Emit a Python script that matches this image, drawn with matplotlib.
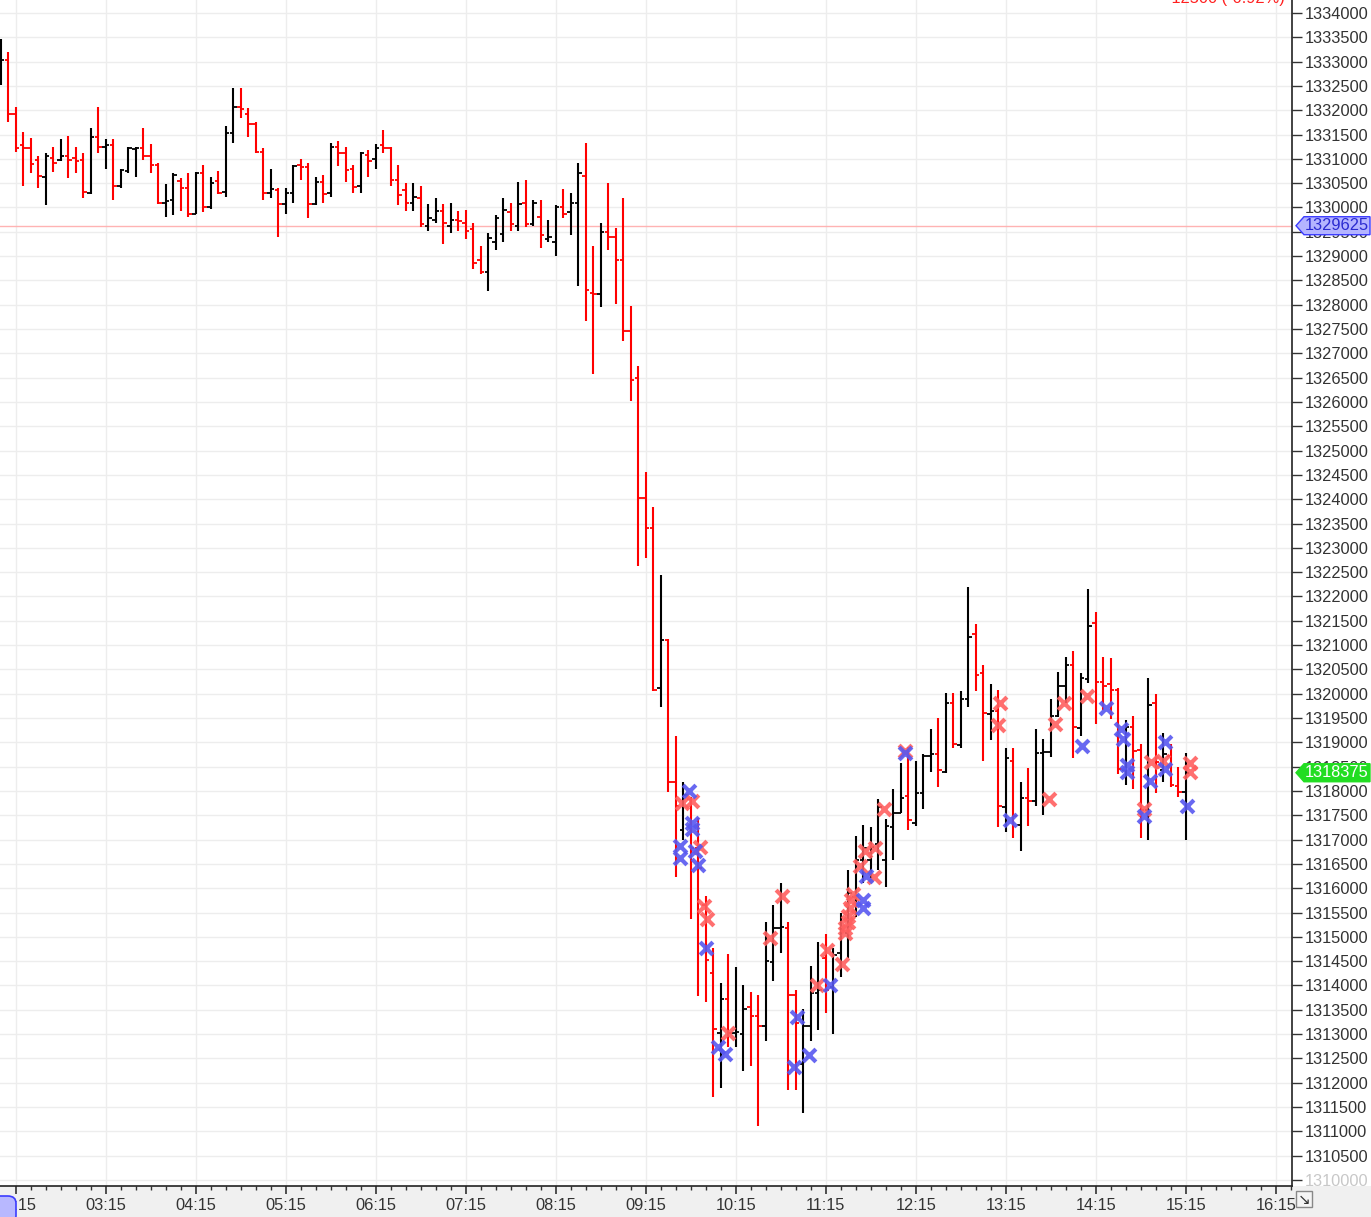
import numpy as np
import matplotlib
matplotlib.use("Agg")
import matplotlib.pyplot as plt
from matplotlib.patches import Polygon, Rectangle, FancyBboxPatch
from matplotlib.transforms import blended_transform_factory

plt.rcParams['font.family'] = ['Liberation Sans', 'DejaVu Sans']

# 5-minute bars, first one at 02:05
first_bar = "02:05"
opens = [1332625, 1333025, 1331925, 1331275, 1331225, 1330975, 1330625, 1331025, 1330975, 1331050,
         1331025, 1330975, 1330300, 1331450, 1331250, 1331275, 1330450, 1330750, 1331200, 1331225,
         1331050, 1330875, 1330100, 1330150, 1330550, 1330400, 1329875, 1330700, 1330000, 1330550,
         1330325, 1331525, 1332075, 1331925, 1331725, 1331150, 1330300, 1330350, 1330075, 1330300,
         1330875, 1330825, 1330075, 1330525, 1330300, 1331250, 1331125, 1330800, 1330450, 1331075,
         1331000, 1331275, 1331225, 1330575, 1330350, 1330100, 1330200, 1329625, 1329750, 1329925,
         1329625, 1329750, 1329675, 1329550, 1328925, 1328675, 1329300, 1329450, 1329900, 1329625,
         1330100, 1329650, 1329800, 1329350, 1329300, 1330000, 1329900, 1330100, 1330650, 1328250,
         1328225, 1329500, 1329400, 1328925, 1327450, 1326500, 1324025, 1323400, 1320125, 1321100,
         1318175, 1317200, 1317825, 1316825, 1315650, 1314250, 1313025, 1313725, 1313025, 1313000,
         1313550, 1313375, 1313175, 1314475, 1315175, 1315175, 1313800, 1312375, 1313175, 1313850,
         1314575, 1313975, 1314675, 1315075, 1315825, 1316575, 1316575, 1316900, 1316575, 1317250,
         1317550, 1317900, 1317350, 1317950, 1318725, 1318750, 1318400, 1319800, 1318950, 1319900,
         1321225, 1320425, 1319575, 1319650, 1317675, 1318625, 1317300, 1317850, 1317800, 1318775,
         1318800, 1319550, 1320150, 1320600, 1319300, 1320300, 1321450, 1320250, 1320200, 1320075,
         1318425, 1319325, 1318850, 1317600, 1319800, 1318425, 1318725, 1318100, 1317975]
highs = [1333475, 1333200, 1332075, 1331550, 1331425, 1331050, 1331125, 1331250, 1331400, 1331475,
         1331250, 1331125, 1331625, 1332075, 1331400, 1331400, 1330800, 1331250, 1331250, 1331625,
         1331300, 1330925, 1330475, 1330700, 1330600, 1330700, 1330725, 1330875, 1330625, 1330750,
         1331675, 1332450, 1332450, 1332050, 1331750, 1331225, 1330800, 1330400, 1330400, 1330875,
         1331000, 1330925, 1330625, 1330675, 1331325, 1331375, 1331250, 1330875, 1331150, 1331175,
         1331300, 1331600, 1331250, 1330875, 1330500, 1330500, 1330450, 1330075, 1330200, 1330075,
         1330100, 1329925, 1329950, 1329675, 1329200, 1329475, 1329850, 1330200, 1330100, 1330525,
         1330575, 1330150, 1330150, 1329750, 1330050, 1330375, 1330300, 1330925, 1331325, 1329200,
         1329675, 1330500, 1329575, 1330200, 1327975, 1326750, 1324550, 1323850, 1322450, 1321125,
         1319125, 1318175, 1317875, 1317450, 1315850, 1314775, 1314050, 1314650, 1314375, 1314000,
         1313875, 1313800, 1315300, 1315650, 1316100, 1315300, 1313900, 1313525, 1314400, 1314900,
         1315050, 1314775, 1315500, 1316375, 1317075, 1317300, 1317250, 1317825, 1317425, 1318050,
         1318575, 1318900, 1318625, 1318750, 1319275, 1319500, 1320025, 1320025, 1320050, 1322200,
         1321425, 1320600, 1320200, 1320075, 1318875, 1318875, 1318175, 1318475, 1319275, 1319075,
         1319900, 1320450, 1320750, 1320875, 1320425, 1322150, 1321675, 1320750, 1320725, 1320125,
         1319450, 1319550, 1318975, 1320325, 1320000, 1319200, 1318975, 1318500, 1318775]
lows = [1332525, 1331750, 1331150, 1330450, 1330700, 1330400, 1330050, 1330725, 1330950, 1330600,
        1330700, 1330200, 1330275, 1331125, 1330800, 1330150, 1330400, 1330700, 1330625, 1330975,
        1330700, 1330075, 1329800, 1329850, 1329925, 1329800, 1329875, 1329900, 1329975, 1330275,
        1330225, 1331325, 1331850, 1331450, 1331125, 1330150, 1330200, 1329400, 1329875, 1330100,
        1330575, 1329775, 1330050, 1330100, 1330225, 1330850, 1330525, 1330300, 1330300, 1330625,
        1330800, 1331125, 1330450, 1330050, 1329925, 1329925, 1329600, 1329525, 1329675, 1329250,
        1329475, 1329525, 1329350, 1328725, 1328625, 1328275, 1329125, 1329300, 1329525, 1329525,
        1329600, 1329625, 1329175, 1329300, 1329000, 1329775, 1329425, 1328375, 1327675, 1326575,
        1327950, 1329125, 1328025, 1327250, 1326025, 1322625, 1322800, 1320050, 1319725, 1317975,
        1316225, 1317000, 1315375, 1313775, 1313650, 1311700, 1311900, 1312725, 1312725, 1312250,
        1312350, 1311100, 1312850, 1314100, 1314675, 1311850, 1311850, 1311375, 1312850, 1313075,
        1313425, 1313000, 1314175, 1314575, 1315400, 1316100, 1316200, 1316375, 1316025, 1316575,
        1317550, 1317200, 1317275, 1317625, 1318400, 1318075, 1318375, 1318875, 1318875, 1319725,
        1320050, 1318625, 1319050, 1317250, 1317150, 1317025, 1316775, 1317275, 1317700, 1317500,
        1318700, 1319525, 1319800, 1318675, 1319125, 1320225, 1319375, 1319675, 1319475, 1318350,
        1318125, 1318050, 1317025, 1317000, 1317950, 1318175, 1318075, 1317875, 1317000]
closes = [1333025, 1331925, 1331225, 1331225, 1330900, 1330650, 1331050, 1330925, 1331050, 1330975,
          1330950, 1330325, 1331450, 1331250, 1331275, 1330450, 1330775, 1331225, 1331225, 1331050,
          1330875, 1330100, 1330125, 1330675, 1330400, 1329875, 1330700, 1330000, 1330500, 1330300,
          1331525, 1332075, 1332025, 1331725, 1331150, 1330300, 1330375, 1330075, 1330300, 1330850,
          1330825, 1330075, 1330525, 1330275, 1331250, 1331125, 1330775, 1330425, 1331125, 1330950,
          1331225, 1331225, 1330575, 1330250, 1330100, 1330225, 1329650, 1329775, 1329925, 1329675,
          1329750, 1329725, 1329525, 1328850, 1328675, 1329375, 1329775, 1329950, 1329650, 1330075,
          1329650, 1330100, 1329425, 1329400, 1330000, 1329875, 1330100, 1330700, 1328300, 1328225,
          1329500, 1329400, 1328925, 1327450, 1326450, 1324025, 1323400, 1320075, 1321100, 1318175,
          1317700, 1317925, 1316825, 1316425, 1314525, 1313100, 1313725, 1313025, 1313050, 1313525,
          1313375, 1313175, 1314500, 1315175, 1315200, 1313800, 1313225, 1313175, 1313850, 1313900,
          1313900, 1314625, 1315150, 1315900, 1316575, 1316825, 1316850, 1317675, 1317275, 1317550,
          1317850, 1317400, 1317950, 1318725, 1318750, 1318425, 1319800, 1318975, 1319900, 1321175,
          1320375, 1319600, 1319650, 1317700, 1318675, 1317475, 1317850, 1317800, 1318775, 1318800,
          1319550, 1320150, 1320600, 1319325, 1320325, 1321400, 1320250, 1320150, 1320075, 1318450,
          1319325, 1318825, 1317600, 1319775, 1318600, 1318750, 1318125, 1317975, 1318375]

# trade markers
blue_times = ["09:44", "09:46", "09:46", "09:38", "09:38", "09:48", "09:50", "09:55", "10:03", "10:08",
              "10:54", "10:56", "11:04", "11:18", "11:40", "11:40", "11:42", "12:08", "13:18", "14:06",
              "14:22", "14:32", "14:33", "14:36", "14:36", "14:47", "14:51", "15:01", "15:01", "15:16"]
blue_prices = [1318000, 1317350, 1317225, 1316875, 1316625, 1316775, 1316475, 1314775, 1312725, 1312600,
               1312325, 1313350, 1312575, 1314000, 1315750, 1315600, 1316250, 1318775, 1317400, 1318925,
               1319700, 1319275, 1319075, 1318525, 1318400, 1317475, 1318200, 1319000, 1318450, 1317700]
red_times = ["09:39", "09:46", "09:51", "09:54", "09:56", "10:10", "10:38", "10:46", "11:09", "11:16",
             "11:26", "11:28", "11:28", "11:30", "11:30", "11:31", "11:32", "11:33", "11:38", "11:41",
             "11:48", "11:47", "11:54", "12:08", "13:11", "13:10", "13:44", "13:48", "13:54", "14:09",
             "14:47", "14:52", "15:00", "15:18", "15:18"]
red_prices = [1317750, 1317800, 1316850, 1315625, 1315375, 1313025, 1314975, 1315850, 1314000, 1314725,
              1314450, 1315075, 1315175, 1315300, 1315425, 1315600, 1315750, 1315875, 1316450, 1316775,
              1316825, 1316225, 1317625, 1318825, 1319800, 1319350, 1317825, 1319375, 1319800, 1319950,
              1317625, 1318600, 1318625, 1318575, 1318400]

ref_price = 1329625
last_price = 1318375
change_text = "-12500 (-0.92%)"
hour_labels = ["02:15", "03:15", "04:15", "05:15", "06:15", "07:15", "08:15", "09:15",
               "10:15", "11:15", "12:15", "13:15", "14:15", "15:15", "16:15"]


def to_min(s):
    h, m = s.split(":")
    return int(h) * 60 + int(m)


W, H = 1371, 1217
PW, PH = 1292, 1186  # plot area in pixels

fig = plt.figure(figsize=(W / 100, H / 100), dpi=100, facecolor='white')
ax = fig.add_axes([0, (H - PH) / H, PW / W, PH / H])
fig.patches.append(Rectangle((0, 0), 1, (H - PH) / H, transform=fig.transFigure,
                             facecolor='#f0f0f0', edgecolor='none', zorder=-1))

o = np.array(opens)
hi = np.array(highs)
lo = np.array(lows)
c = np.array(closes)
t = to_min(first_bar) + 5 * np.arange(len(o))
cols = np.where(c < o, '#ff0000', '#000000')

ax.vlines(t, lo, hi, colors=cols, lw=1.5, zorder=3)
ax.hlines(o, t - 2.2, t, colors=cols, lw=1.3, zorder=3)
ax.hlines(c, t, t + 2.2, colors=cols, lw=1.3, zorder=3)

ax.scatter([to_min(s) for s in red_times], red_prices, marker='x', s=85,
           linewidths=3.0, color='#ff5f5f', alpha=0.9, zorder=4)
ax.scatter([to_min(s) for s in blue_times], blue_prices, marker='x', s=85,
           linewidths=3.0, color='#5858f0', alpha=0.9, zorder=5)

ax.axhline(ref_price, color='#ffb3b3', lw=1, zorder=2)

x0 = to_min(first_bar) - 0.5
ax.set_xlim(x0, x0 + PW / 1.5)
ytop = 1334267
ybot = ytop - 20.566 * PH
ax.set_ylim(ybot, ytop)

# axes styling
for side in ['left', 'top']:
    ax.spines[side].set_visible(False)
for side in ['right', 'bottom']:
    ax.spines[side].set_color('#222222')
    ax.spines[side].set_linewidth(1.2)

yt = np.arange(1310000, 1334001, 500)
ax.yaxis.tick_right()
ax.set_yticks(yt)
ax.set_yticklabels([str(v) for v in yt])
ax.tick_params(axis='y', direction='out', length=7, width=1, colors='#333333',
               labelsize=11.8, pad=2)
ax.get_yticklabels()[0].set_color('#c8c8c8')

xt = [to_min(s) for s in hour_labels]
ax.set_xticks(xt)
ax.set_xticklabels(hour_labels)
ax.set_xticks(np.arange(to_min("02:25"), x0 + PW / 1.5, 10), minor=True)
ax.tick_params(axis='x', which='major', direction='out', length=6, width=1.2,
               colors='#333333', labelsize=11.8, pad=3)
ax.tick_params(axis='x', which='minor', direction='out', length=3, width=1, colors='#333333')
ax.grid(True, which='major', color='#ededed', lw=1, zorder=0)
ax.set_axisbelow(True)

# price tags on the right
dpp = (ytop - ybot) / PH
tr = blended_transform_factory(ax.transAxes, ax.transData)


def price_tag(price, face, edge, tcolor):
    h = 9 * dpp
    pts = [(1296 / PW, price), (1304 / PW, price + h), (1370 / PW, price + h),
           (1370 / PW, price - h), (1304 / PW, price - h)]
    ax.add_patch(Polygon(pts, closed=True, transform=tr, facecolor=face, edgecolor=edge,
                         lw=1, clip_on=False, zorder=10))
    ax.text(1337 / PW, price, str(price), transform=tr, ha='center', va='center',
            fontsize=11.8, color=tcolor, clip_on=False, zorder=11)


price_tag(ref_price, '#b4b4ff', '#3c3cff', '#2a2ad0')
price_tag(last_price, '#22dd22', '#22dd22', 'white')

# change text clipped at top
fig.text(1285 / W, 1 - 3 / H, change_text, ha='right', va='baseline', color='#ff2020', fontsize=11.8)

# scroll button bottom-left and resize box bottom-right
fig.patches.append(FancyBboxPatch((-8 / W, -6 / H), 24 / W, 27 / H, boxstyle='round,pad=0,rounding_size=0.006',
                                  transform=fig.transFigure, facecolor='#b8b8ff', edgecolor='#3c3cff',
                                  lw=1.2, zorder=6))
fig.patches.append(Rectangle((1296 / W, (H - 1207) / H), 16 / W, 16 / H, transform=fig.transFigure,
                             facecolor='#f4f4f4', edgecolor='#888888', lw=1, zorder=6))
fig.text(1304 / W, (H - 1199) / H, "\u2198", ha='center', va='center', fontsize=11,
         color='#333333', family='DejaVu Sans', zorder=7)

fig.savefig("out.png", dpi=100, facecolor='white')
